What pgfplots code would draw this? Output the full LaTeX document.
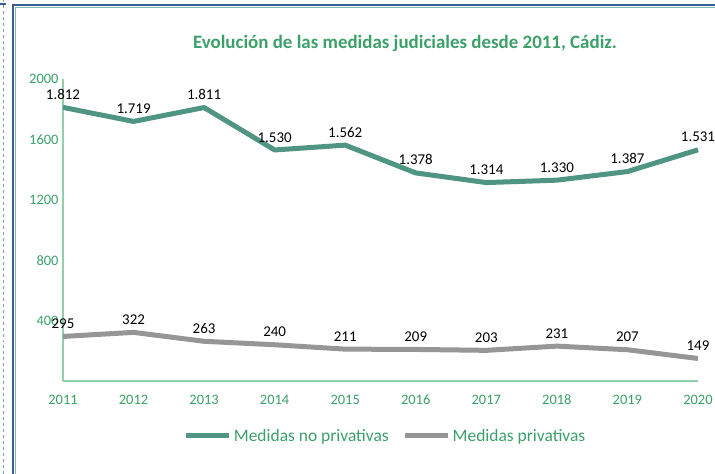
\documentclass[border=0pt]{standalone}
\usepackage{pgfplots}
\pgfplotsset{compat=1.18}
\usepackage{fontspec}
\setmainfont{Carlito}
\definecolor{teal1}{RGB}{80,148,132}
\definecolor{gray1}{RGB}{150,150,150}
\definecolor{gtext}{RGB}{60,160,105}
\definecolor{gaxis}{RGB}{145,208,170}
\definecolor{frameblue}{RGB}{60,90,150}
\begin{document}
\begin{tikzpicture}
\path[use as bounding box] (0bp,0bp) rectangle (715bp,474bp);
% frame
\draw[teal1!80, dashed, line width=0.8bp] (3bp,0bp) -- (3bp,474bp);
\draw[frameblue, line width=1.6bp] (0bp,470bp) -- (6bp,470bp);
\draw[frameblue, line width=2bp] (13bp,0bp) -- (13bp,469bp) -- (715bp,469bp);
\draw[teal1!70, line width=0.8bp] (15bp,0bp) -- (15bp,467bp) -- (715bp,467bp);
\node[font=\fontsize{19}{22}\selectfont\bfseries, text=gtext] at (405bp,431bp) {Evolución de las medidas judiciales desde 2011, Cádiz.};
\begin{axis}[
  at={(63bp,93bp)}, anchor=south west,
  scale only axis, width=635bp, height=302bp,
  xmin=2011, xmax=2020, ymin=0, ymax=2000,
  axis x line=bottom, axis y line=left,
  axis line style={gaxis, line width=1.2bp, -},
  xtick={2011,...,2020}, ytick={400,800,1200,1600,2000},
  major tick length=0pt,
  xticklabel style={/pgf/number format/1000 sep={}, text=gtext, font=\fontsize{14.5}{16}\selectfont, anchor=base, yshift=-24bp},
  yticklabel style={/pgf/number format/1000 sep={}, text=gtext, font=\fontsize{14.5}{16}\selectfont, xshift=-1bp},
  /pgf/number format/assume math mode=true,
  clip=false,
  nodes near coords,
  every node near coord/.append style={font=\fontsize{15}{17}\selectfont, text=black, /pgf/number format/1000 sep={.}, /pgf/number format/assume math mode=true, yshift=2bp},
  legend columns=2,
  legend style={draw=none, fill=none, at={(0.508,-0.182)}, anchor=center, font=\fontsize{17.5}{20}\selectfont, text=gtext,
     /tikz/every even column/.append style={column sep=12bp}},
  legend image code/.code={\draw[#1, line width=5bp] (0bp,0bp) -- (43bp,0bp);},
]
\addplot[teal1, line width=5bp, line join=round, mark=none] coordinates {
(2011,1812) (2012,1719) (2013,1811) (2014,1530) (2015,1562) (2016,1378) (2017,1314) (2018,1330) (2019,1387) (2020,1531)};
\addlegendentry{Medidas no privativas}
\addplot[gray1, line width=5bp, line join=round, mark=none] coordinates {
(2011,295) (2012,322) (2013,263) (2014,240) (2015,211) (2016,209) (2017,203) (2018,231) (2019,207) (2020,149)};
\addlegendentry{Medidas privativas}
\end{axis}
\end{tikzpicture}
\end{document}
